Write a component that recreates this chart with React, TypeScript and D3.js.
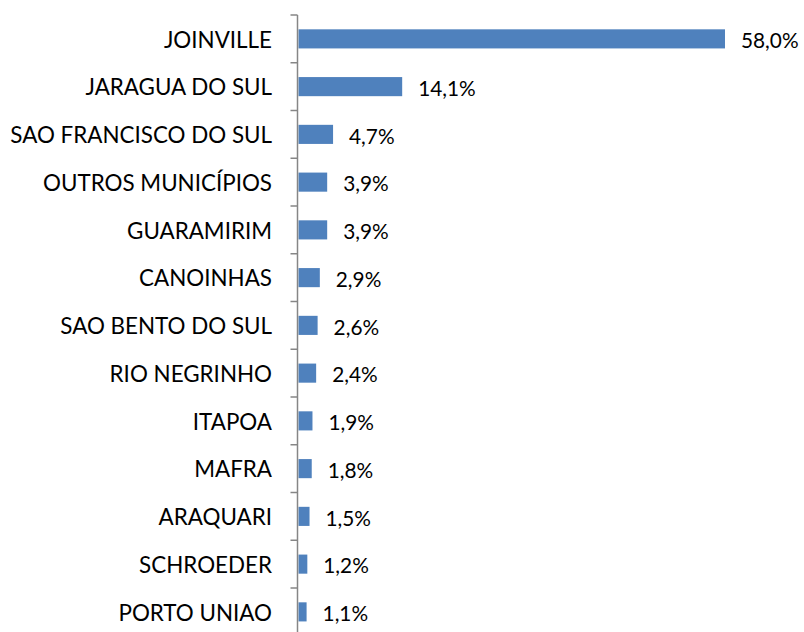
import React from "react";
import * as d3 from "d3";

const categories = [
  "JOINVILLE",
  "JARAGUA DO SUL",
  "SAO FRANCISCO DO SUL",
  "OUTROS MUNICÍPIOS",
  "GUARAMIRIM",
  "CANOINHAS",
  "SAO BENTO DO SUL",
  "RIO NEGRINHO",
  "ITAPOA",
  "MAFRA",
  "ARAQUARI",
  "SCHROEDER",
  "PORTO UNIAO",
];
const values = [58.0, 14.1, 4.7, 3.9, 3.9, 2.9, 2.6, 2.4, 1.9, 1.8, 1.5, 1.2, 1.1];

const W = 804;
const H = 632;
const axisX = 297.5;
const top = 15;
const band = 47.75;

export default function App() {
  const x = d3.scaleLinear().domain([0, 58]).range([axisX + 1, 725]);
  const y = d3
    .scaleBand<string>()
    .domain(categories)
    .range([top, top + band * categories.length])
    .paddingInner(0.6)
    .paddingOuter(0.3);
  const fmt = (v: number) => v.toFixed(1).replace(".", ",") + "%";
  const ticks = d3.range(categories.length + 1).map((i) => top + i * band);
  return (
    <svg
      width={W}
      height={H}
      style={{ position: "absolute", left: 0, top: 0 }}
      fontFamily="Lato, 'Open Sans', sans-serif"
    >
      <rect width={W} height={H} fill="#fff" />
      {categories.map((c, i) => (
        <g key={c}>
          <rect
            x={x(0)}
            y={y(c)!}
            width={x(values[i]) - x(0)}
            height={y.bandwidth()}
            fill="#4F81BD"
          />
          <text
            x={272}
            y={y(c)! + y.bandwidth() / 2 + 1}
            dy="0.35em"
            textAnchor="end"
            fontSize={22.4}
            fill="#000"
          >
            {c}
          </text>
          <text
            x={x(values[i]) + 16}
            y={y(c)! + y.bandwidth() / 2 + 2}
            dy="0.35em"
            textAnchor="start"
            fontSize={20.8}
            fill="#000"
          >
            {fmt(values[i])}
          </text>
        </g>
      ))}
      <line x1={axisX} x2={axisX} y1={top} y2={H} stroke="#868686" strokeWidth={1.5} />
      {ticks.map((t, i) => (
        <line key={i} x1={axisX - 7} x2={axisX} y1={t} y2={t} stroke="#868686" strokeWidth={1.5} />
      ))}
    </svg>
  );
}
